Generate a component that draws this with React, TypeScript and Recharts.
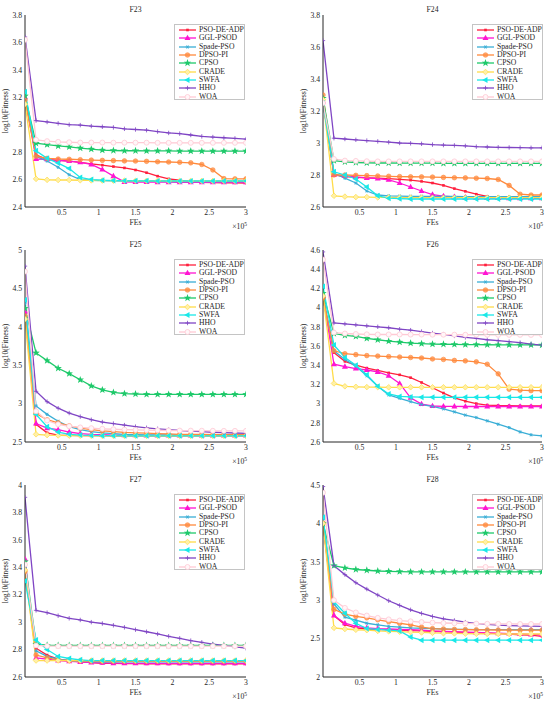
import { LineChart, Line, XAxis, YAxis } from "recharts";

const fes = [0, 0.15, 0.3, 0.45, 0.6, 0.75, 0.9, 1.05, 1.2, 1.35, 1.5, 1.65, 1.8, 1.95, 2.1, 2.25, 2.4, 2.55, 2.7, 2.85, 3];
const xTicks = [0.5, 1, 1.5, 2, 2.5, 3];

const algorithms = ["PSO-DE-ADP", "GGL-PSOD", "Spade-PSO", "DPSO-PI", "CPSO", "CRADE", "SWFA", "HHO", "WOA"];
const colors = ["#ff1f3d", "#ff14d2", "#3aaed6", "#ff8a3d", "#1ec96a", "#ffdc4a", "#19e8e8", "#7f45c4", "#ffc9d4"];
const markers = ["dot", "triUp", "aster", "circle", "pent", "diamond", "triLeft", "plus", "ring"];

// rows follow the order of `algorithms`
const f23 = [
  [3.2, 2.78, 2.745, 2.74, 2.735, 2.725, 2.715, 2.705, 2.695, 2.685, 2.67, 2.65, 2.625, 2.605, 2.595, 2.585, 2.58, 2.578, 2.577, 2.576, 2.575],
  [3.2, 2.75, 2.748, 2.74, 2.735, 2.726, 2.71, 2.673, 2.625, 2.583, 2.582, 2.582, 2.581, 2.581, 2.58, 2.58, 2.58, 2.58, 2.58, 2.58, 2.58],
  [3.22, 2.77, 2.735, 2.69, 2.635, 2.6, 2.595, 2.592, 2.59, 2.588, 2.588, 2.587, 2.587, 2.586, 2.586, 2.586, 2.585, 2.585, 2.585, 2.585, 2.585],
  [3.18, 2.77, 2.755, 2.75, 2.748, 2.745, 2.742, 2.74, 2.738, 2.736, 2.735, 2.733, 2.73, 2.728, 2.726, 2.722, 2.71, 2.67, 2.607, 2.605, 2.605],
  [3.21, 2.865, 2.855, 2.845, 2.838, 2.83, 2.822, 2.815, 2.812, 2.81, 2.81, 2.809, 2.809, 2.809, 2.808, 2.808, 2.808, 2.808, 2.808, 2.808, 2.808],
  [3.15, 2.605, 2.598, 2.597, 2.597, 2.595, 2.594, 2.593, 2.592, 2.592, 2.591, 2.591, 2.591, 2.59, 2.59, 2.59, 2.59, 2.59, 2.59, 2.59, 2.59],
  [3.24, 2.81, 2.755, 2.72, 2.68, 2.615, 2.6, 2.595, 2.593, 2.592, 2.591, 2.591, 2.59, 2.59, 2.59, 2.59, 2.59, 2.59, 2.59, 2.59, 2.59],
  [3.64, 3.03, 3.02, 3.01, 3.0, 2.997, 2.99, 2.985, 2.98, 2.97, 2.965, 2.96, 2.95, 2.94, 2.935, 2.925, 2.915, 2.91, 2.905, 2.9, 2.895],
  [3.62, 2.89, 2.88, 2.875, 2.872, 2.87, 2.87, 2.87, 2.869, 2.869, 2.869, 2.869, 2.868, 2.868, 2.868, 2.868, 2.868, 2.868, 2.868, 2.868, 2.868],
];

const f24 = [
  [3.28, 2.8, 2.79, 2.785, 2.782, 2.78, 2.777, 2.773, 2.768, 2.76, 2.75, 2.735, 2.715, 2.698, 2.68, 2.667, 2.66, 2.657, 2.656, 2.655, 2.655],
  [3.26, 2.8, 2.795, 2.788, 2.782, 2.778, 2.77, 2.75, 2.725, 2.7, 2.678, 2.668, 2.663, 2.66, 2.658, 2.657, 2.656, 2.655, 2.655, 2.655, 2.655],
  [3.25, 2.81, 2.78, 2.75, 2.7, 2.675, 2.67, 2.668, 2.667, 2.667, 2.666, 2.666, 2.666, 2.665, 2.665, 2.665, 2.665, 2.665, 2.665, 2.665, 2.665],
  [3.3, 2.8, 2.8, 2.798, 2.796, 2.794, 2.792, 2.79, 2.789, 2.788, 2.787, 2.785, 2.783, 2.782, 2.78, 2.778, 2.772, 2.735, 2.68, 2.675, 2.675],
  [3.28, 2.89, 2.882, 2.878, 2.876, 2.875, 2.875, 2.874, 2.874, 2.874, 2.874, 2.873, 2.873, 2.873, 2.873, 2.873, 2.873, 2.873, 2.873, 2.873, 2.873],
  [3.27, 2.67, 2.665, 2.662, 2.662, 2.66, 2.66, 2.659, 2.659, 2.659, 2.658, 2.658, 2.658, 2.658, 2.658, 2.658, 2.658, 2.658, 2.658, 2.658, 2.658],
  [3.25, 2.82, 2.8, 2.775, 2.725, 2.67, 2.655, 2.652, 2.65, 2.65, 2.65, 2.65, 2.65, 2.65, 2.65, 2.65, 2.65, 2.65, 2.65, 2.65, 2.65],
  [3.64, 3.03, 3.025, 3.02, 3.015, 3.01, 3.005, 3.0, 2.998, 2.995, 2.99, 2.987, 2.985, 2.982, 2.977, 2.975, 2.973, 2.972, 2.971, 2.97, 2.97],
  [3.25, 2.9, 2.89, 2.888, 2.886, 2.885, 2.885, 2.885, 2.885, 2.885, 2.885, 2.885, 2.885, 2.885, 2.885, 2.885, 2.885, 2.885, 2.885, 2.885, 2.885],
];

const f25 = [
  [4.18, 2.73, 2.62, 2.59, 2.585, 2.583, 2.582, 2.582, 2.581, 2.581, 2.58, 2.58, 2.58, 2.58, 2.58, 2.58, 2.58, 2.58, 2.58, 2.58, 2.58],
  [4.2, 2.74, 2.68, 2.66, 2.63, 2.61, 2.6, 2.595, 2.59, 2.588, 2.587, 2.586, 2.586, 2.585, 2.585, 2.585, 2.585, 2.585, 2.585, 2.585, 2.585],
  [4.3, 2.97, 2.86, 2.77, 2.7, 2.66, 2.635, 2.62, 2.61, 2.6, 2.595, 2.593, 2.592, 2.591, 2.59, 2.59, 2.59, 2.59, 2.59, 2.59, 2.59],
  [4.14, 2.87, 2.79, 2.75, 2.71, 2.68, 2.66, 2.645, 2.635, 2.625, 2.62, 2.615, 2.61, 2.605, 2.6, 2.6, 2.598, 2.597, 2.596, 2.595, 2.595],
  [4.24, 3.66, 3.56, 3.46, 3.39, 3.31, 3.23, 3.18, 3.145, 3.13, 3.125, 3.12, 3.12, 3.12, 3.12, 3.12, 3.12, 3.12, 3.12, 3.12, 3.12],
  [4.1, 2.6, 2.59, 2.585, 2.583, 2.582, 2.581, 2.58, 2.58, 2.58, 2.58, 2.58, 2.58, 2.58, 2.58, 2.58, 2.58, 2.58, 2.58, 2.58, 2.58],
  [4.35, 2.86, 2.7, 2.63, 2.6, 2.59, 2.585, 2.583, 2.582, 2.581, 2.58, 2.58, 2.58, 2.58, 2.58, 2.58, 2.58, 2.58, 2.58, 2.58, 2.58],
  [4.79, 3.16, 3.025, 2.94, 2.877, 2.83, 2.79, 2.76, 2.74, 2.72, 2.7, 2.685, 2.672, 2.66, 2.65, 2.642, 2.634, 2.627, 2.621, 2.617, 2.613],
  [4.72, 2.9, 2.78, 2.73, 2.705, 2.69, 2.68, 2.672, 2.666, 2.661, 2.657, 2.654, 2.652, 2.65, 2.649, 2.648, 2.647, 2.646, 2.645, 2.645, 2.645],
];

const f26 = [
  [4.1, 3.53, 3.44, 3.4, 3.37, 3.345, 3.32, 3.3, 3.27, 3.22, 3.165, 3.11, 3.06, 3.025, 3.0, 2.985, 2.98, 2.978, 2.976, 2.975, 2.975],
  [4.12, 3.41, 3.385, 3.365, 3.35, 3.33, 3.29, 3.21, 3.06, 2.995, 2.975, 2.972, 2.971, 2.97, 2.97, 2.97, 2.97, 2.97, 2.97, 2.97, 2.97],
  [4.12, 3.55, 3.46, 3.39, 3.29, 3.18, 3.09, 3.055, 3.02, 2.99, 2.97, 2.945, 2.914, 2.88, 2.855, 2.82, 2.785, 2.75, 2.705, 2.675, 2.663],
  [4.1, 3.55, 3.52, 3.51, 3.5, 3.495, 3.49, 3.485, 3.48, 3.475, 3.465, 3.46, 3.45, 3.445, 3.435, 3.41, 3.31, 3.15, 3.14, 3.135, 3.135],
  [4.15, 3.73, 3.71, 3.7, 3.68, 3.665, 3.65, 3.64, 3.63, 3.625, 3.62, 3.618, 3.616, 3.615, 3.614, 3.613, 3.612, 3.612, 3.611, 3.611, 3.61],
  [4.12, 3.21, 3.18, 3.175, 3.172, 3.171, 3.17, 3.17, 3.17, 3.17, 3.17, 3.17, 3.17, 3.17, 3.17, 3.17, 3.17, 3.17, 3.17, 3.17, 3.17],
  [4.22, 3.61, 3.48, 3.4, 3.3, 3.18, 3.1, 3.075, 3.07, 3.067, 3.066, 3.065, 3.065, 3.065, 3.065, 3.065, 3.065, 3.065, 3.065, 3.065, 3.065],
  [4.58, 3.84, 3.83, 3.82, 3.81, 3.8, 3.79, 3.775, 3.765, 3.75, 3.735, 3.72, 3.705, 3.69, 3.68, 3.665, 3.655, 3.645, 3.635, 3.62, 3.61],
  [4.5, 3.74, 3.73, 3.725, 3.722, 3.72, 3.72, 3.72, 3.719, 3.719, 3.718, 3.718, 3.718, 3.717, 3.717, 3.717, 3.716, 3.716, 3.716, 3.715, 3.715],
];

const f27 = [
  [3.39, 2.81, 2.76, 2.73, 2.72, 2.71, 2.705, 2.7, 2.7, 2.698, 2.697, 2.696, 2.696, 2.695, 2.695, 2.695, 2.695, 2.695, 2.695, 2.695, 2.695],
  [3.46, 2.74, 2.73, 2.72, 2.715, 2.71, 2.705, 2.703, 2.701, 2.7, 2.7, 2.7, 2.7, 2.7, 2.7, 2.7, 2.7, 2.7, 2.7, 2.7, 2.7],
  [3.4, 2.79, 2.75, 2.73, 2.72, 2.715, 2.712, 2.711, 2.71, 2.71, 2.71, 2.71, 2.71, 2.71, 2.71, 2.71, 2.71, 2.71, 2.71, 2.71, 2.71],
  [3.37, 2.76, 2.74, 2.725, 2.72, 2.718, 2.716, 2.715, 2.715, 2.715, 2.715, 2.715, 2.715, 2.715, 2.715, 2.715, 2.715, 2.715, 2.715, 2.715, 2.715],
  [3.44, 2.84, 2.832, 2.831, 2.83, 2.83, 2.83, 2.83, 2.83, 2.83, 2.83, 2.83, 2.83, 2.83, 2.83, 2.83, 2.83, 2.83, 2.83, 2.83, 2.83],
  [3.38, 2.72, 2.72, 2.72, 2.72, 2.72, 2.72, 2.72, 2.72, 2.72, 2.72, 2.72, 2.72, 2.72, 2.72, 2.72, 2.72, 2.72, 2.72, 2.72, 2.72],
  [3.3, 2.87, 2.8, 2.75, 2.735, 2.725, 2.72, 2.72, 2.72, 2.72, 2.72, 2.72, 2.72, 2.72, 2.72, 2.72, 2.72, 2.72, 2.72, 2.72, 2.72],
  [3.91, 3.086, 3.069, 3.047, 3.028, 3.016, 3.0, 2.99, 2.977, 2.962, 2.945, 2.93, 2.914, 2.897, 2.882, 2.865, 2.853, 2.84, 2.83, 2.819, 2.81],
  [3.42, 2.83, 2.826, 2.825, 2.825, 2.825, 2.825, 2.825, 2.825, 2.825, 2.825, 2.825, 2.825, 2.825, 2.825, 2.825, 2.825, 2.825, 2.825, 2.825, 2.825],
];

const f28 = [
  [4.0, 2.8, 2.68, 2.64, 2.625, 2.62, 2.615, 2.61, 2.605, 2.6, 2.595, 2.59, 2.585, 2.58, 2.575, 2.57, 2.565, 2.56, 2.55, 2.545, 2.53],
  [4.02, 2.8, 2.7, 2.66, 2.64, 2.63, 2.625, 2.62, 2.615, 2.61, 2.6, 2.595, 2.59, 2.585, 2.58, 2.575, 2.57, 2.565, 2.56, 2.555, 2.55],
  [4.05, 2.95, 2.78, 2.74, 2.7, 2.68, 2.66, 2.65, 2.64, 2.635, 2.63, 2.625, 2.62, 2.62, 2.618, 2.617, 2.616, 2.616, 2.615, 2.615, 2.615],
  [4.0, 2.88, 2.82, 2.79, 2.77, 2.745, 2.72, 2.7, 2.68, 2.65, 2.63, 2.625, 2.62, 2.617, 2.615, 2.613, 2.612, 2.61, 2.61, 2.61, 2.61],
  [4.0, 3.45, 3.42, 3.4, 3.39, 3.38, 3.375, 3.372, 3.37, 3.37, 3.37, 3.37, 3.37, 3.37, 3.37, 3.37, 3.37, 3.37, 3.37, 3.37, 3.37],
  [4.0, 2.64, 2.625, 2.615, 2.61, 2.6, 2.595, 2.59, 2.585, 2.58, 2.575, 2.57, 2.568, 2.565, 2.563, 2.562, 2.561, 2.56, 2.56, 2.56, 2.56],
  [4.08, 2.98, 2.83, 2.7, 2.63, 2.62, 2.61, 2.6, 2.52, 2.48, 2.48, 2.48, 2.48, 2.48, 2.48, 2.48, 2.48, 2.48, 2.48, 2.48, 2.48],
  [4.48, 3.45, 3.333, 3.228, 3.145, 3.067, 2.993, 2.932, 2.875, 2.828, 2.788, 2.758, 2.736, 2.714, 2.697, 2.684, 2.675, 2.67, 2.666, 2.662, 2.66],
  [4.4, 3.0, 2.9, 2.84, 2.8, 2.77, 2.75, 2.735, 2.725, 2.715, 2.708, 2.703, 2.7, 2.697, 2.695, 2.693, 2.692, 2.691, 2.69, 2.69, 2.69],
];

const yTicks23 = [2.4, 2.6, 2.8, 3, 3.2, 3.4, 3.6, 3.8];
const yTicks24 = [2.6, 2.8, 3, 3.2, 3.4, 3.6, 3.8];
const yTicks25 = [2.5, 3, 3.5, 4, 4.5, 5];
const yTicks26 = [2.6, 2.8, 3, 3.2, 3.4, 3.6, 3.8, 4, 4.2, 4.4, 4.6];
const yTicks27 = [2.6, 2.8, 3, 3.2, 3.4, 3.6, 3.8, 4];
const yTicks28 = [2, 2.5, 3, 3.5, 4, 4.5];

const FONT = "'Liberation Serif', 'Times New Roman', serif";
const INK = "#262626";
const FS = 7.7;

const panels = [
  { title: "F23", values: f23, ticks: yTicks23, col: 0, row: 0 },
  { title: "F24", values: f24, ticks: yTicks24, col: 1, row: 0 },
  { title: "F25", values: f25, ticks: yTicks25, col: 0, row: 1 },
  { title: "F26", values: f26, ticks: yTicks26, col: 1, row: 1 },
  { title: "F27", values: f27, ticks: yTicks27, col: 0, row: 2 },
  { title: "F28", values: f28, ticks: yTicks28, col: 1, row: 2 },
];

function Marker({ cx, cy, kind, color }: { cx?: number; cy?: number; kind: string; color: string }) {
  if (cx == null || cy == null || isNaN(cx) || isNaN(cy)) return null;
  switch (kind) {
    case "dot":
      return <rect x={cx - 1.3} y={cy - 1.3} width={2.6} height={2.6} fill={color} />;
    case "triUp":
      return <polygon points={`${cx},${cy - 3.3} ${cx + 3},${cy + 2} ${cx - 3},${cy + 2}`} fill={color} />;
    case "triLeft":
      return <polygon points={`${cx - 3.3},${cy} ${cx + 2},${cy - 3} ${cx + 2},${cy + 3}`} fill={color} />;
    case "aster":
      return (
        <g stroke={color} strokeWidth={0.9}>
          <line x1={cx - 1.8} y1={cy} x2={cx + 1.8} y2={cy} />
          <line x1={cx - 0.9} y1={cy - 1.6} x2={cx + 0.9} y2={cy + 1.6} />
          <line x1={cx - 0.9} y1={cy + 1.6} x2={cx + 0.9} y2={cy - 1.6} />
        </g>
      );
    case "circle":
      return <circle cx={cx} cy={cy} r={2.3} fill={color} fillOpacity={0.75} stroke={color} strokeWidth={0.6} />;
    case "pent": {
      const pts: string[] = [];
      for (let i = 0; i < 10; i++) {
        const r = i % 2 === 0 ? 3.9 : 1.6;
        const a = -Math.PI / 2 + (i * Math.PI) / 5;
        pts.push(`${cx + r * Math.cos(a)},${cy + r * Math.sin(a)}`);
      }
      return <polygon points={pts.join(" ")} fill={color} />;
    }
    case "diamond":
      return (
        <polygon
          points={`${cx},${cy - 2.8} ${cx + 2.8},${cy} ${cx},${cy + 2.8} ${cx - 2.8},${cy}`}
          fill="#fff0a8"
          stroke={color}
          strokeWidth={0.7}
        />
      );
    case "plus":
      return (
        <g stroke={color} strokeWidth={0.8}>
          <line x1={cx - 2.2} y1={cy} x2={cx + 2.2} y2={cy} />
          <line x1={cx} y1={cy - 2.2} x2={cx} y2={cy + 2.2} />
        </g>
      );
    case "ring":
      return <circle cx={cx} cy={cy} r={2.5} fill="#fff6f8" stroke={color} strokeWidth={0.8} />;
    default:
      return null;
  }
}

function LegendBox({ right }: { right: number }) {
  return (
    <div
      style={{
        position: "absolute",
        top: 24,
        right,
        width: 71,
        height: 76,
        boxSizing: "border-box",
        border: "1px solid #c4c4c4",
        background: "#fff",
        padding: "1px 0 0 3px",
        fontFamily: FONT,
        fontSize: FS,
        color: INK,
      }}
    >
      {algorithms.map((name, k) => (
        <div key={name} style={{ display: "flex", alignItems: "center", height: 8.3, lineHeight: "8px" }}>
          <svg width={19} height={8} style={{ flex: "none" }}>
            <line x1={1} y1={4} x2={18} y2={4} stroke={colors[k]} strokeWidth={1.3} />
            <Marker cx={9.5} cy={4} kind={markers[k]} color={colors[k]} />
          </svg>
          <span style={{ marginLeft: 2, whiteSpace: "nowrap" }}>{name}</span>
        </div>
      ))}
    </div>
  );
}

const W = 275;
const H = 232;
const MT = 15;
const MB = 5;
const XH = 20;

function Panel({ title, values, ticks, col, row }: (typeof panels)[number]) {
  const yW = col === 0 ? 25 : 48;
  const mr = col === 0 ? 29 : 8;
  const plotLeft = yW;
  const plotRight = W - mr;
  const plotBottom = H - MB - XH;
  const midX = (plotLeft + plotRight) / 2;
  const midY = (MT + plotBottom) / 2;

  const rows = fes.map((fe, i) => {
    const r: Record<string, number> = { fe };
    algorithms.forEach((a, k) => {
      r[a] = values[k][i];
    });
    return r;
  });

  const tickStyle = { fontSize: FS, fill: INK, fontFamily: FONT };
  const text = { position: "absolute" as const, fontFamily: FONT, fontSize: FS, color: INK, lineHeight: 1, whiteSpace: "nowrap" as const };

  return (
    <div style={{ position: "absolute", left: col * W, top: row * 235, width: W, height: H }}>
      <LineChart width={W} height={H} data={rows} margin={{ top: MT, right: mr, bottom: MB, left: 0 }}>
        <XAxis
          type="number"
          dataKey="fe"
          domain={[0, 3]}
          ticks={xTicks}
          tickFormatter={(v: number) => String(v)}
          height={XH}
          tickLine={false}
          tickSize={0}
          tickMargin={3}
          stroke={INK}
          tick={tickStyle}
          allowDataOverflow
        />
        <YAxis
          type="number"
          domain={[ticks[0], ticks[ticks.length - 1]]}
          ticks={ticks}
          tickFormatter={(v: number) => String(v)}
          width={yW}
          tickLine={false}
          tickSize={0}
          tickMargin={3}
          stroke={INK}
          tick={tickStyle}
          allowDataOverflow
        />
        {algorithms.map((a, k) => (
          <Line
            key={a}
            type="linear"
            dataKey={a}
            stroke={colors[k]}
            strokeWidth={1.3}
            isAnimationActive={false}
            activeDot={false}
            dot={(p: any) => (
              <Marker key={`${a}-${p.index}`} cx={p.cx} cy={p.cy} kind={markers[k]} color={colors[k]} />
            )}
          />
        ))}
      </LineChart>
      <div style={{ ...text, left: midX, top: 10, transform: "translate(-50%, -50%)" }}>{title}</div>
      <div style={{ ...text, left: midX, top: 223, transform: "translate(-50%, -50%)" }}>FEs</div>
      <div style={{ ...text, left: plotRight + 1, top: 226, transform: "translate(-100%, -50%)" }}>
        ×10<sup style={{ fontSize: 5.5, verticalAlign: "3px" }}>5</sup>
      </div>
      <div
        style={{
          ...text,
          left: col === 0 ? 6 : 29,
          top: midY,
          transform: "translate(-50%, -50%) rotate(-90deg)",
        }}
      >
        log10(Fitness)
      </div>
      <LegendBox right={col === 0 ? 30 : 7} />
    </div>
  );
}

export default function App() {
  return (
    <div
      style={{
        position: "absolute",
        left: 0,
        top: 0,
        width: 550,
        height: 703,
        background: "#fff",
        overflow: "hidden",
      }}
    >
      {panels.map((p) => (
        <Panel key={p.title} {...p} />
      ))}
    </div>
  );
}
